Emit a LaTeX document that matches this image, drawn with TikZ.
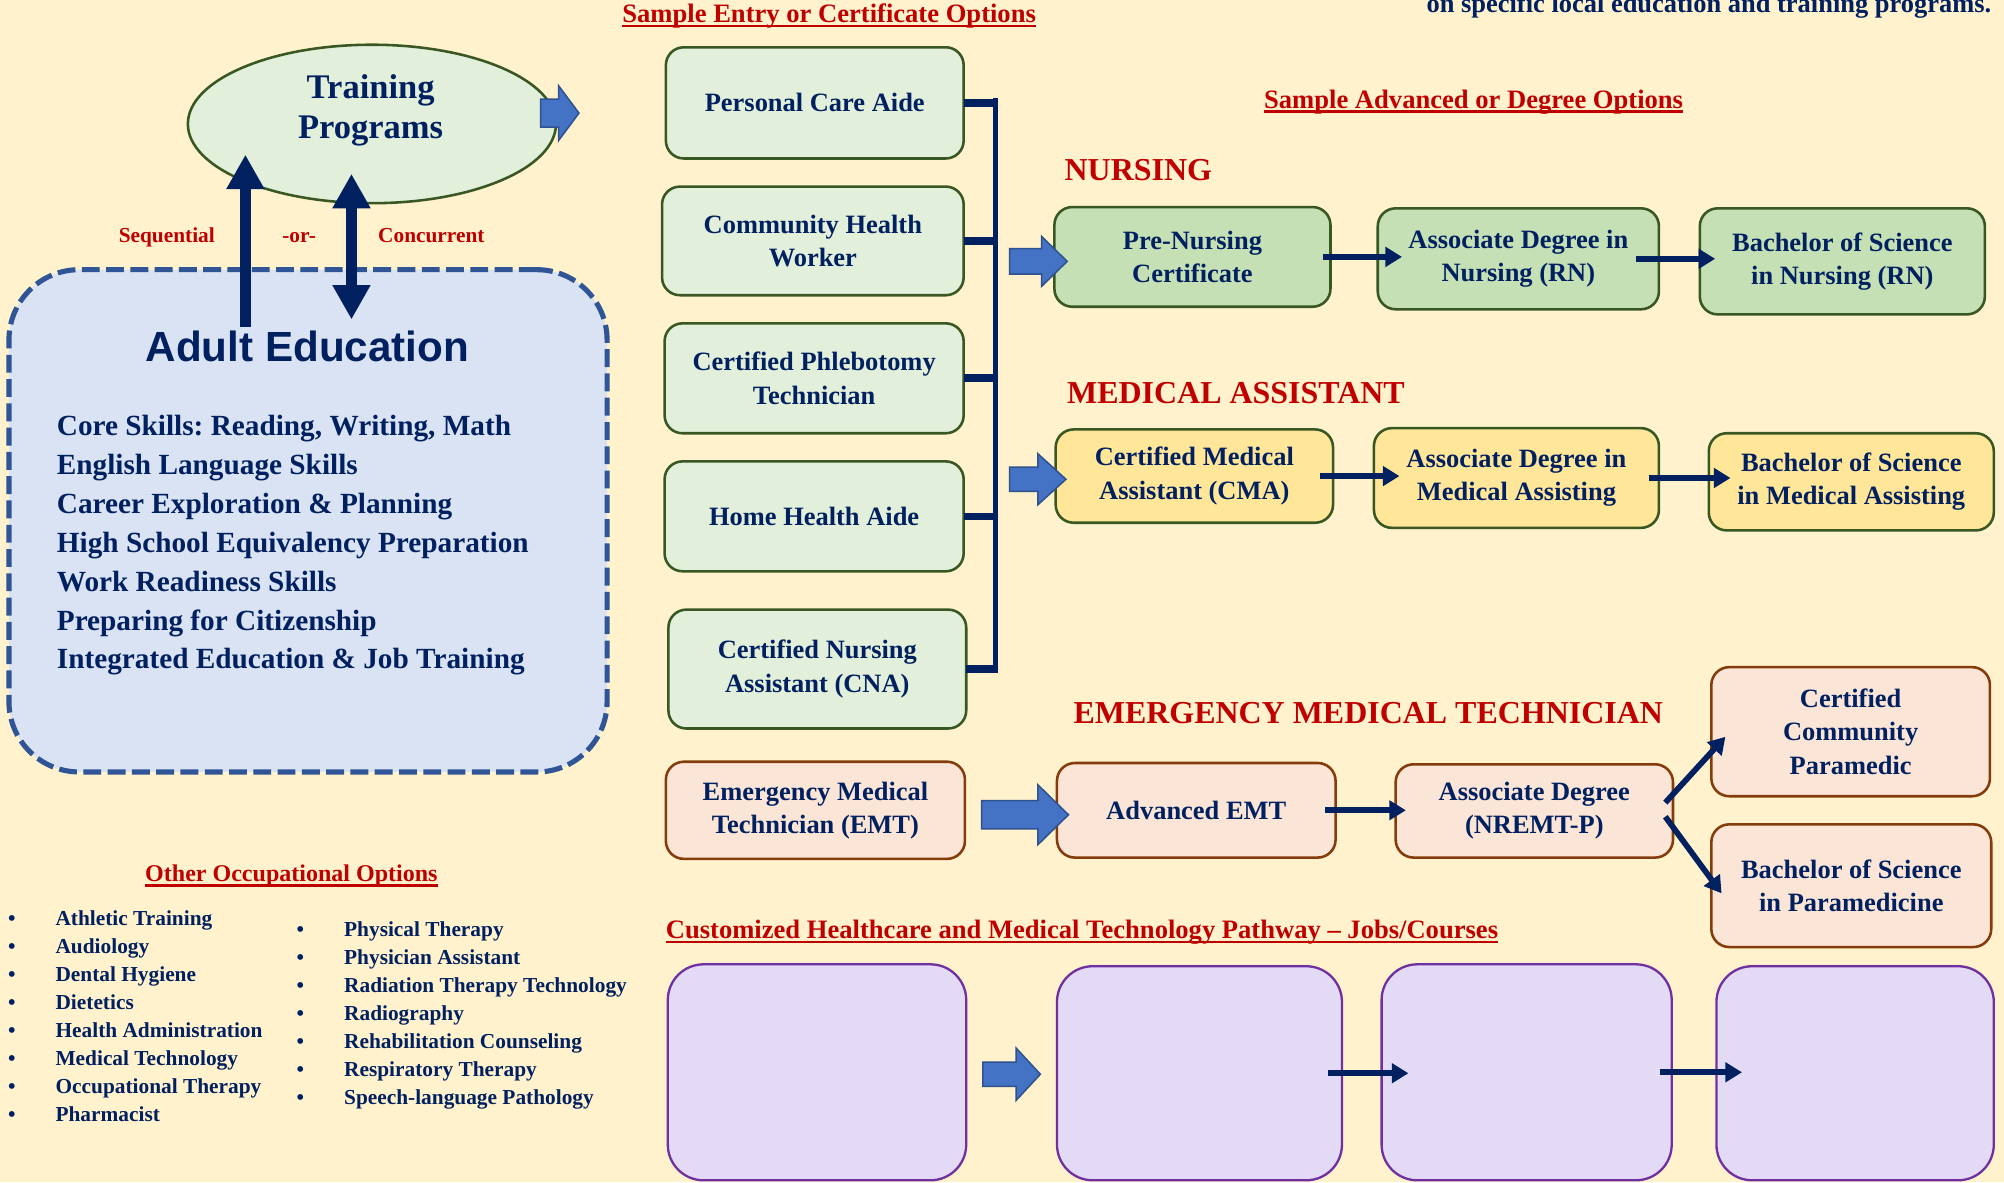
\documentclass[tikz,border=0pt]{standalone}
\usepackage{fontspec}
\setmainfont{Liberation Serif}
\newfontfamily\sansfam{Liberation Sans}
\usetikzlibrary{arrows.meta,shapes.geometric}
\frenchspacing
\definecolor{bgc}{HTML}{FFF2CC}
\definecolor{navy}{HTML}{002060}
\definecolor{redc}{HTML}{C00000}
\definecolor{glight}{HTML}{E2EFDA}
\definecolor{gmid}{HTML}{C5E0B4}
\definecolor{gborder}{HTML}{385723}
\definecolor{goldf}{HTML}{FFE699}
\definecolor{peachf}{HTML}{FBE5D6}
\definecolor{brownb}{HTML}{843C0C}
\definecolor{purpf}{HTML}{E3DAF5}
\definecolor{purpb}{HTML}{7030A0}
\definecolor{blkf}{HTML}{4472C4}
\definecolor{blkb}{HTML}{2F528F}
\definecolor{aef}{HTML}{DAE3F3}
\definecolor{aeb}{HTML}{2F5597}
\newcommand{\blkarrow}[6]{%
  \draw[blk] ({#1-#3},{#2-#4}) -- ({#1-#6},{#2-#4}) -- ({#1-#6},{#2-#5}) -- (#1,#2)
    -- ({#1-#6},{#2+#5}) -- ({#1-#6},{#2+#4}) -- ({#1-#3},{#2+#4}) -- cycle;}
\begin{document}
\begin{tikzpicture}[x=1pt,y=-1pt,
  every node/.style={inner sep=0pt,outer sep=0pt},
  txt/.style={font=\bfseries\fontsize{20.7}{26}\selectfont, text=navy, align=center},
  nbox/.style={rounded corners=14pt, line width=2pt, txt},
  entry/.style={nbox, draw=gborder, fill=glight},
  nurse/.style={nbox, draw=gborder, fill=gmid},
  mabox/.style={nbox, draw=gborder, fill=goldf},
  emtbox/.style={nbox, draw=brownb, fill=peachf},
  purp/.style={rounded corners=28pt, line width=1.8pt, draw=purpb, fill=purpf},
  conn/.style={draw=navy, line width=4.5pt, -{Triangle[length=13pt,width=15pt]}},
  bigarr/.style={draw=navy, line width=8.5pt, -{Triangle[length=27pt,width=28pt]}},
  stub/.style={draw=navy, line width=6pt},
  busline/.style={draw=navy, line width=4pt},
  hdr/.style={font=\bfseries\fontsize{20.8}{25}\selectfont, text=redc},
  ulin/.style={draw=redc, line width=2pt},
  cattitle/.style={font=\bfseries\fontsize{25}{30}\selectfont, text=redc},
  small/.style={font=\bfseries\fontsize{16.7}{20}\selectfont, text=redc},
  listfont/.style={font=\bfseries\fontsize{22.9}{28}\selectfont, text=navy},
  bulfont/.style={font=\bfseries\fontsize{16.7}{20}\selectfont, text=navy},
  blk/.style={fill=blkf, draw=blkb, line width=1.2pt, line join=miter}
]
\useasboundingbox (0,0) rectangle (1568,925);
\fill[bgc] (0,0) rectangle (1568,925);

% top right note
\node[txt, anchor=base east] (note) at (1558,9.7) {on specific local education and training programs.};

% Headers
\node[hdr, anchor=base west] (h1) at (487,17.8) {Sample Entry or Certificate Options};
\draw[ulin] ([yshift=-2.6pt]h1.base west) -- ([yshift=-2.6pt]h1.base east);
\node[hdr, anchor=base] (h2) at (1153,84.8) {Sample Advanced or Degree Options};
\draw[ulin] ([yshift=-2.6pt]h2.base west) -- ([yshift=-2.6pt]h2.base east);
\node[hdr, anchor=base west] (h3) at (521,734) {Customized Healthcare and Medical Technology Pathway -- Jobs/Courses};
\draw[ulin] ([yshift=-3pt]h3.base west) -- ([yshift=-3pt]h3.base east);
\node[hdr, font=\bfseries\fontsize{18.8}{22}\selectfont, anchor=base] (h4) at (228,690) {Other Occupational Options};
\draw[ulin] ([yshift=-2.8pt]h4.base west) -- ([yshift=-2.8pt]h4.base east);

% Adult education box
\node[draw=aeb, fill=aef, line width=4pt, dash pattern=on 14pt off 5pt, rounded corners=55pt,
      minimum width=468pt, minimum height=393pt] (ae) at (241,407.5) {};
\node[font=\sansfam\bfseries\fontsize{33}{36}\selectfont, text=navy, anchor=base] (aet) at (240.5,282.5) {Adult Education};
\foreach \t [count=\i from 0] in {{Core Skills: Reading, Writing, Math},{English Language Skills},{Career Exploration \& Planning},{High School Equivalency Preparation},{Work Readiness Skills},{Preparing for Citizenship},{Integrated Education \& Job Training}}
  \node[listfont, anchor=base west] (ai\i) at (44.5,{341+\i*30.4}) {\t};

% Training programs ellipse
\node[ellipse, draw=gborder, fill=glight, line width=2pt, minimum width=288pt, minimum height=124pt] (tp) at (291,97) {};
\node[txt, font=\bfseries\fontsize{27}{31}\selectfont, anchor=base] (tp1) at (290,77) {Training};
\node[txt, font=\bfseries\fontsize{27}{31}\selectfont, anchor=base] (tp2) at (290,108) {Programs};
\blkarrow{453}{88.5}{30}{11}{21.5}{16}

% Sequential / concurrent arrows
\coordinate (sq0) at (192,256);
\coordinate (sq1) at (192,121);
\coordinate (cc0) at (275,250);
\coordinate (cc1) at (275,136);
\draw[bigarr] (sq0) -- (sq1);
\draw[bigarr, {Triangle[length=27pt,width=28pt]}-{Triangle[length=27pt,width=28pt]}] (cc0) -- (cc1);
\node[small, anchor=base] (lseq) at (130.5,190) {Sequential};
\node[small, anchor=base] (lor) at (234,190) {-or-};
\node[small, anchor=base] (lcon) at (337.5,190) {Concurrent};

% Entry boxes
\node[entry, minimum width=233pt, minimum height=87pt] (pca) at (637.5,80.5) {Personal Care Aide};
\node[entry, minimum width=236pt, minimum height=85pt] (chw) at (636,188.5) {Community Health\\Worker};
\node[entry, minimum width=234pt, minimum height=86pt] (cpt) at (637,296) {Certified Phlebotomy\\Technician};
\node[entry, minimum width=234pt, minimum height=86pt] (hha) at (637,404) {Home Health Aide};
\node[entry, minimum width=233pt, minimum height=93pt] (cna) at (639.5,523.5) {Certified Nursing\\Assistant (CNA)};

% Bus
\coordinate (busr) at (781,0);
\coordinate (bt) at (779,77);
\coordinate (bb) at (779,526.5);
\draw[busline] (bt) -- (bb);
\foreach \n in {pca,chw,cpt,hha,cna}
  \draw[stub] (\n.east) -- (\n.east -| busr);

% Nursing
\node[cattitle, anchor=base west] (tn) at (833,141) {NURSING};
\node[nurse, minimum width=216pt, minimum height=78pt] (pre) at (933,201) {Pre-Nursing\\Certificate};
\node[nurse, minimum width=220pt, minimum height=79pt] (an) at (1188,202.5) {Associate Degree in\\Nursing (RN)};
\node[nurse, minimum width=223pt, minimum height=83pt] (bn) at (1441.5,204.5) {Bachelor of Science\\in Nursing (RN)};
\blkarrow{835}{204.5}{45}{10}{19.5}{20}
\draw[conn, shorten <=-6pt, shorten >=-19pt] (pre.east) -- (pre.east -| an.west);
\draw[conn, shorten <=-18pt, shorten >=-12pt] (an.east) -- (an.east -| bn.west);

% Medical assistant
\node[cattitle, anchor=base west] (tm) at (835,316) {MEDICAL ASSISTANT};
\node[mabox, minimum width=217pt, minimum height=73pt] (cma) at (934.5,372.5) {Certified Medical\\Assistant (CMA)};
\node[mabox, minimum width=223pt, minimum height=78pt] (am) at (1186.5,374) {Associate Degree in\\Medical Assisting};
\node[mabox, minimum width=223pt, minimum height=76pt] (bm) at (1448.5,377) {Bachelor of Science\\in Medical Assisting};
\blkarrow{834}{375}{44}{9.5}{20}{22}
\draw[conn, shorten <=-10pt, shorten >=-20pt] (cma.east) -- (cma.east -| am.west);
\draw[conn, shorten <=-8pt, shorten >=-17pt] (am.east) -- (am.east -| bm.west);

% EMT
\node[cattitle, anchor=base west] (te) at (840,566) {EMERGENCY MEDICAL TECHNICIAN};
\node[emtbox, minimum width=234pt, minimum height=76pt] (emt) at (638,634) {Emergency Medical\\Technician (EMT)};
\node[emtbox, minimum width=218pt, minimum height=74pt] (aemt) at (936,634) {Advanced EMT};
\node[emtbox, minimum width=217pt, minimum height=73pt] (aed) at (1200.5,634.5) {Associate Degree\\(NREMT-P)};
\node[emtbox, minimum width=218pt, minimum height=101pt] (ccp) at (1448,572.5) {Certified\\Community\\Paramedic};
\node[emtbox, minimum width=219pt, minimum height=96pt] (bsp) at (1448.5,693) {Bachelor of Science\\in Paramedicine};
\blkarrow{836}{637.5}{68}{11}{23.5}{24}
\draw[conn, shorten <=-8pt, shorten >=-8pt] (aemt.east) -- (aemt.east -| aed.west);
\draw[conn] ([xshift=-6pt,yshift=6.5pt]aed.east) -- ([xshift=11pt,yshift=-4pt]ccp.west);
\draw[conn] ([xshift=-6pt,yshift=-4.5pt]aed.east) -- ([xshift=8pt,yshift=-6pt]bsp.west);

% Purple pathway boxes
\node[purp, minimum width=233.5pt, minimum height=169pt] (p1) at (639.25,839) {};
\node[purp, minimum width=223pt, minimum height=167.5pt] (p2) at (938.5,839.75) {};
\node[purp, minimum width=227pt, minimum height=169pt] (p3) at (1194.5,839) {};
\node[purp, minimum width=217pt, minimum height=167.5pt] (p4) at (1451.5,839.75) {};
\blkarrow{814}{840.5}{45}{9.5}{20.5}{19}
\draw[conn, shorten <=-11pt, shorten >=-21pt] (p2.east) -- (p2.east -| p3.west);
\draw[conn, shorten <=-9pt, shorten >=-20pt] (p3.east) -- (p3.east -| p4.west);

% Other occupational options
\foreach \t [count=\i from 0] in {Athletic Training,Audiology,Dental Hygiene,Dietetics,Health Administration,Medical Technology,Occupational Therapy,Pharmacist}
  \node[bulfont, anchor=base west] (ol\i) at (6.3,{724.5+\i*21.9}) {\makebox[37.2pt][l]{\textbullet}\t};
\foreach \t [count=\i from 0] in {Physical Therapy,Physician Assistant,Radiation Therapy Technology,Radiography,Rehabilitation Counseling,Respiratory Therapy,Speech-language Pathology}
  \node[bulfont, anchor=base west] (or\i) at (232.1,{733+\i*21.9}) {\makebox[37.2pt][l]{\textbullet}\t};
\end{tikzpicture}
\end{document}
